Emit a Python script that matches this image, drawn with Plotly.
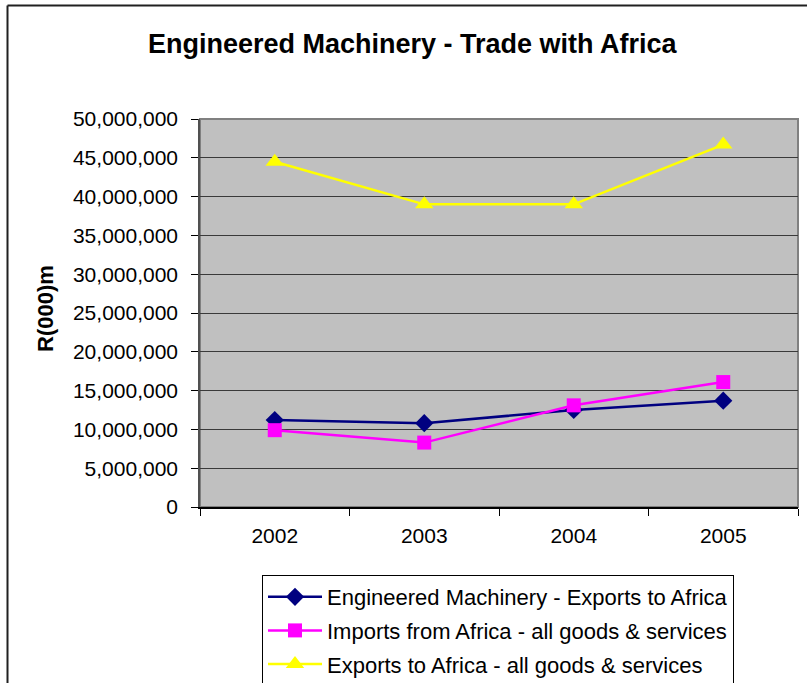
import plotly.graph_objects as go

# Trade figures, R(000)m
years = ["2002", "2003", "2004", "2005"]
em_exports = [11200000, 10800000, 12500000, 13700000]
imports_all = [9900000, 8300000, 13100000, 16100000]
exports_all = [44500000, 39000000, 39000000, 46700000]

y_ticks = [0, 5000000, 10000000, 15000000, 20000000, 25000000,
           30000000, 35000000, 40000000, 45000000, 50000000]
y_tick_text = [f"{v:,}" for v in y_ticks]

W, H = 807, 683
font = "Liberation Sans, Arial, sans-serif"

fig = go.Figure()
fig.add_trace(go.Scatter(
    x=years, y=em_exports, mode="lines+markers",
    name="Engineered Machinery - Exports to Africa",
    line=dict(color="#000080", width=2.5),
    marker=dict(symbol="diamond", size=14, color="#000080"),
    legendgroup="a",
))
fig.add_trace(go.Scatter(
    x=years, y=imports_all, mode="lines+markers",
    name="Imports from Africa - all goods & services",
    line=dict(color="#FF00FF", width=2.5),
    marker=dict(symbol="square", size=14, color="#FF00FF"),
    legendgroup="b",
))
fig.add_trace(go.Scatter(
    x=years, y=exports_all, mode="lines+markers",
    name="Exports to Africa - all goods & services",
    line=dict(color="#FFFF00", width=2.5),
    marker=dict(symbol="triangle-up", size=16, color="#FFFF00"),
    legendgroup="c",
))

x0, x1 = 200 / W, 798 / W
y_top, y_bot = 1 - 119 / H, 1 - 507 / H

fig.update_layout(
    width=W, height=H,
    margin=dict(l=0, r=0, t=0, b=0, autoexpand=False),
    paper_bgcolor="white",
    plot_bgcolor="#C0C0C0",
    font=dict(family=font, size=21, color="black"),
    showlegend=True,
    legend=dict(
        x=262 / W, y=1 - 575 / H, xanchor="left", yanchor="top",
        bordercolor="black", borderwidth=1, bgcolor="white",
        font=dict(size=22), tracegroupgap=2, itemwidth=54,
    ),
    xaxis=dict(
        domain=[x0, x1], type="category", range=[-0.5, 3.5],
        tickson="boundaries", ticks="outside", ticklen=7,
        tickcolor="black", showgrid=False, showline=True,
        linecolor="black", linewidth=1.5, zeroline=False,
        tickfont=dict(size=21), ticklabelstandoff=9, automargin=False,
    ),
    yaxis=dict(
        domain=[y_bot, y_top], range=[0, 50000000],
        tickvals=y_ticks, ticktext=y_tick_text,
        ticks="outside", ticklen=7, tickcolor="black",
        showgrid=True, gridcolor="#3a3a3a", gridwidth=1.2,
        showline=True, linecolor="#505050", linewidth=1.5,
        zeroline=False, tickfont=dict(size=21), ticklabelstandoff=9,
        automargin=False,
    ),
    annotations=[
        dict(text="<b>Engineered Machinery - Trade with Africa</b>",
             x=413 / W, y=1 - 44 / H, xref="paper", yref="paper",
             showarrow=False, font=dict(size=27), xanchor="center",
             yanchor="middle"),
        dict(text="<b>R(000)m</b>", x=45 / W, y=1 - 309 / H,
             xref="paper", yref="paper", showarrow=False, textangle=-90,
             font=dict(size=22), xanchor="center", yanchor="middle"),
    ],
    shapes=[
        # plot area frame
        dict(type="rect", xref="paper", yref="paper", x0=x0, x1=x1,
             y0=y_bot, y1=y_top, line=dict(color="#808080", width=2),
             layer="below"),
        # chart outer border
        dict(type="line", xref="paper", yref="paper", x0=7.5 / W, x1=1.01,
             y0=1 - 5.5 / H, y1=1 - 5.5 / H,
             line=dict(color="#202020", width=2)),
        dict(type="line", xref="paper", yref="paper", x0=7.5 / W, x1=7.5 / W,
             y0=1 - 5.5 / H, y1=-0.01,
             line=dict(color="#202020", width=2)),
    ],
)

fig.write_html("out.html")
